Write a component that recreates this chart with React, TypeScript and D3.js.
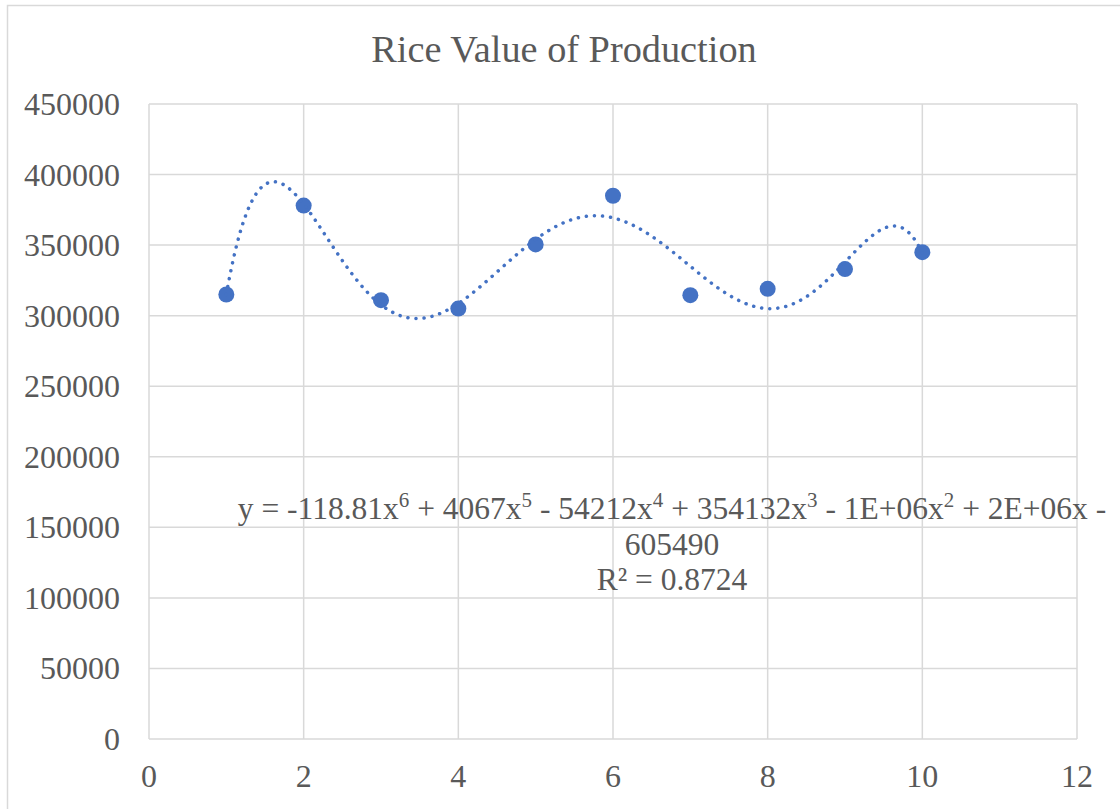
import React from "react";
import * as d3 from "d3";

const xValues = [1, 2, 3, 4, 5, 6, 7, 8, 9, 10];
const yValues = [315000, 378000, 311000, 305000, 350500, 385000, 314500, 319000, 333000, 345000];
const xTicks = [0, 2, 4, 6, 8, 10, 12];
const yTicks = [0, 50000, 100000, 150000, 200000, 250000, 300000, 350000, 400000, 450000];
const titleText = "Rice Value of Production";
const eqTerms: [string, string][] = [
  ["y = -118.81x", "6"],
  [" + 4067x", "5"],
  [" - 54212x", "4"],
  [" + 354132x", "3"],
  [" - 1E+06x", "2"],
  [" + 2E+06x -", ""],
];
const eqLine2 = "605490";
const r2Text = "R² = 0.8724";

// least squares polynomial fit (degree 6) on scaled x
function polyFit(xs: number[], ys: number[], deg: number) {
  const mid = (d3.min(xs)! + d3.max(xs)!) / 2;
  const half = (d3.max(xs)! - d3.min(xs)!) / 2;
  const ts = xs.map((x) => (x - mid) / half);
  const n = deg + 1;
  const A: number[][] = Array.from({ length: n }, () => new Array(n + 1).fill(0));
  ts.forEach((t, k) => {
    for (let i = 0; i < n; i++) {
      for (let j = 0; j < n; j++) A[i][j] += Math.pow(t, i + j);
      A[i][n] += ys[k] * Math.pow(t, i);
    }
  });
  for (let c = 0; c < n; c++) {
    let p = c;
    for (let r = c + 1; r < n; r++) if (Math.abs(A[r][c]) > Math.abs(A[p][c])) p = r;
    [A[c], A[p]] = [A[p], A[c]];
    for (let r = 0; r < n; r++) {
      if (r === c) continue;
      const f = A[r][c] / A[c][c];
      for (let k = c; k <= n; k++) A[r][k] -= f * A[c][k];
    }
  }
  const coef = A.map((row, i) => row[n] / row[i]);
  return (x: number) => {
    const t = (x - mid) / half;
    return coef.reduce((s, c, i) => s + c * Math.pow(t, i), 0);
  };
}

export default function App() {
  const W = 1120, H = 809;
  const left = 149, right = 1077, top = 104, bottom = 739;
  const x = d3.scaleLinear().domain([0, 12]).range([left, right]);
  const y = d3.scaleLinear().domain([0, 450000]).range([bottom, top]);
  const fit = polyFit(xValues, yValues, 6);
  const xs = d3.range(1, 10.0001, 0.02);
  const line = d3.line<number>().x((d) => x(d)).y((d) => y(fit(d)))(xs) || "";
  const textColor = "#595959";
  const grid = "#d9d9d9";
  const font = "'Liberation Serif', 'Times New Roman', serif";
  const cx = 672;
  const supShift = 12;
  return (
    <svg width={W} height={H} style={{ position: "absolute", left: 0, top: 0 }} fontFamily={font}>
      <rect x={0} y={0} width={W} height={H} fill="#fff" />
      <rect x={7.5} y={5.5} width={W + 10} height={H + 10} fill="#fff" stroke={grid} strokeWidth={1.5} />
      <text x={564} y={62} textAnchor="middle" fontSize={38.3} fill={textColor}>{titleText}</text>
      {yTicks.map((t) => (
        <line key={"gy" + t} x1={left} x2={right} y1={y(t)} y2={y(t)} stroke={grid} strokeWidth={1.5} />
      ))}
      {xTicks.map((t) => (
        <line key={"gx" + t} x1={x(t)} x2={x(t)} y1={top} y2={bottom} stroke={grid} strokeWidth={1.5} />
      ))}
      {yTicks.map((t) => (
        <text key={"ly" + t} x={120} y={y(t) + 11} textAnchor="end" fontSize={32} fill={textColor}>{t}</text>
      ))}
      {xTicks.map((t) => (
        <text key={"lx" + t} x={x(t)} y={787} textAnchor="middle" fontSize={32} fill={textColor}>{t}</text>
      ))}
      {xValues.map((v, i) => (
        <circle key={"m" + i} cx={x(v)} cy={y(yValues[i])} r={8} fill="#4472c4" />
      ))}
      <path d={line} fill="none" stroke="#4472c4" strokeWidth={3.5} strokeLinecap="round" strokeDasharray="0.1 8" />
      <text x={cx} y={519} textAnchor="middle" fontSize={31.5} fill={textColor}>
        {eqTerms.map(([a, b], i) => {
          const prevSup = i > 0 && eqTerms[i - 1][1] !== "";
          return (
            <React.Fragment key={i}>
              <tspan dy={prevSup ? supShift : 0}>{a}</tspan>
              {b ? <tspan fontSize={21} dy={-supShift}>{b}</tspan> : null}
            </React.Fragment>
          );
        })}
      </text>
      <text x={cx} y={555} textAnchor="middle" fontSize={31.5} fill={textColor}>{eqLine2}</text>
      <text x={cx} y={590} textAnchor="middle" fontSize={31.5} fill={textColor}>{r2Text}</text>
    </svg>
  );
}
